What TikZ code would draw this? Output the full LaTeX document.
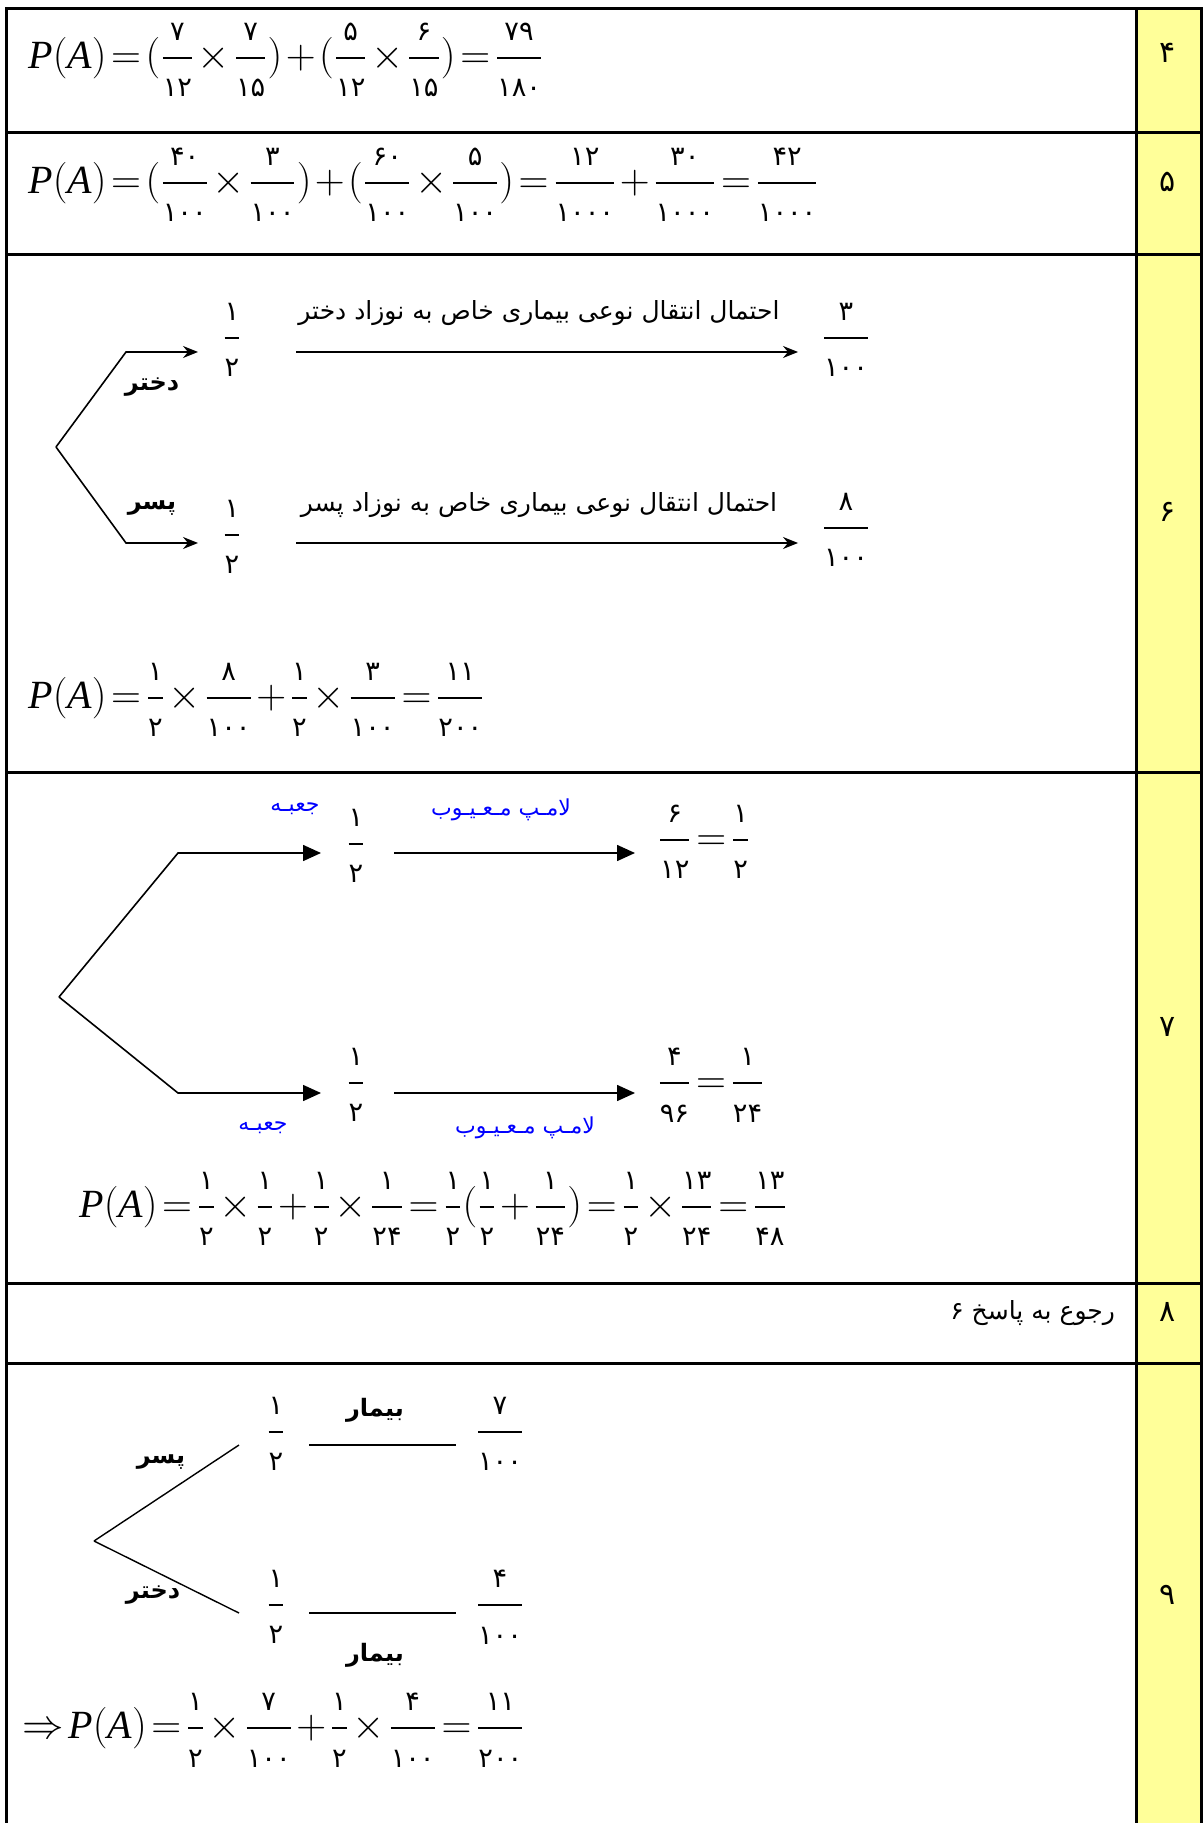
\documentclass[tikz,border=0pt]{standalone}
\usepackage{amsmath}
\usepackage{fontspec}
\setmainfont{Liberation Serif}
\newfontfamily\fadigits[Script=Arabic,Scale=0.68]{DejaVu Sans}
\newfontfamily\fatext[Script=Arabic]{DejaVu Sans}
\TeXXeTstate=1
\usetikzlibrary{arrows.meta}
\definecolor{cellyellow}{RGB}{255,255,153}
\newcommand{\pfrac}[2]{\dfrac{\text{\fadigits #1}}{\text{\fadigits #2}}}
\newcommand{\PofA}{\mathit{P}(\mathit{A})}
\thickmuskip=2mu
\medmuskip=1.5mu
\begin{document}
\begin{tikzpicture}[x=0.5pt,y=-0.5pt,font=\fontsize{20}{24}\selectfont,
           cell_line/.style={line width=1.5pt},
           num_style/.style={font=\fatext\fontsize{15}{17}\selectfont},
           formula_style/.style={anchor=west,inner sep=0pt},
           frac_style/.style={inner sep=0pt},
           branch_style/.style={line width=0.7pt},
           arrow_six/.style={line width=0.8pt,-{Stealth[length=7.5pt,width=6pt,inset=2.5pt]}},
           arrow_seven/.style={line width=0.8pt,-{Triangle[length=9pt,width=8pt]}},
           label_style/.style={font=\fatext\bfseries\fontsize{12}{14}\selectfont},
           text_style/.style={font=\fatext\fontsize{12.5}{15}\selectfont},
           blue_style/.style={text=blue,font=\fatext\fontsize{11}{13}\selectfont}]
            \useasboundingbox (0,0) rectangle (1203,1823);
            \fill[white] (0,0) rectangle (1203,1823);
            \fill[cellyellow] (1136,9) rectangle (1201,1823);
            % table
            \draw[cell_line] (6,1823) -- (6,9) -- (1201,9) -- (1201,1823);
            \draw[cell_line] (1136,9) -- (1136,1823);
            \foreach \y in {133,255,772,1283,1363}
                \draw[cell_line] (6,\y) -- (1201,\y);
            \node[num_style] (n4) at (1168,53)   {۴};
            \node[num_style] (n5) at (1168,182)  {۵};
            \node[num_style] (n6) at (1168,512)  {۶};
            \node[num_style] (n7) at (1168,1027) {۷};
            \node[num_style] (n8) at (1168,1312) {۸};
            \node[num_style] (n9) at (1168,1595) {۹};
            % row 4 and 5
            \node[formula_style] (f4) at (28,60)
                {$\PofA=(\pfrac{۷}{۱۲}\times\pfrac{۷}{۱۵})+(\pfrac{۵}{۱۲}\times\pfrac{۶}{۱۵})=\pfrac{۷۹}{۱۸۰}$};
            \node[formula_style] (f5) at (28,185)
                {$\PofA=(\pfrac{۴۰}{۱۰۰}\times\pfrac{۳}{۱۰۰})+(\pfrac{۶۰}{۱۰۰}\times\pfrac{۵}{۱۰۰})=\pfrac{۱۲}{۱۰۰۰}+\pfrac{۳۰}{۱۰۰۰}=\pfrac{۴۲}{۱۰۰۰}$};
            % row 6
            \coordinate (r6_root) at (56,447);
            \coordinate (r6_up) at (126,352);
            \coordinate (r6_dn) at (126,543);
            \coordinate (r6_up_tip) at (198,352);
            \coordinate (r6_dn_tip) at (198,543);
            \coordinate (r6_a1) at (296,352);
            \coordinate (r6_b1) at (798,352);
            \coordinate (r6_a2) at (296,543);
            \coordinate (r6_b2) at (798,543);
            \node[frac_style] (r6_h1) at (232,340) {$\pfrac{۱}{۲}$};
            \node[frac_style] (r6_h2) at (232,537) {$\pfrac{۱}{۲}$};
            \node[frac_style] (r6_p1) at (846,340) {$\pfrac{۳}{۱۰۰}$};
            \node[frac_style] (r6_p2) at (846,530) {$\pfrac{۸}{۱۰۰}$};
            \node[label_style] (r6_girl) at (152,387) {دختر};
            \node[label_style] (r6_boy) at (152,508) {پسر};
            \node[text_style] (r6_t1) at (539,313) {\beginR احتمال انتقال نوعی بیماری خاص به نوزاد دختر\endR};
            \node[text_style] (r6_t2) at (539,505) {\beginR احتمال انتقال نوعی بیماری خاص به نوزاد پسر\endR};
            \draw[arrow_six] (r6_root) -- (r6_up) -- (r6_up_tip);
            \draw[arrow_six] (r6_root) -- (r6_dn) -- (r6_dn_tip);
            \draw[arrow_six] (r6_a1) -- (r6_b1);
            \draw[arrow_six] (r6_a2) -- (r6_b2);
            \node[formula_style] (f6) at (28,700)
                {$\PofA=\pfrac{۱}{۲}\times\pfrac{۸}{۱۰۰}+\pfrac{۱}{۲}\times\pfrac{۳}{۱۰۰}=\pfrac{۱۱}{۲۰۰}$};
            % row 7
            \coordinate (r7_root) at (59,997);
            \coordinate (r7_up) at (178,853);
            \coordinate (r7_dn) at (178,1093);
            \coordinate (r7_up_tip) at (321,853);
            \coordinate (r7_dn_tip) at (321,1093);
            \coordinate (r7_a1) at (394,853);
            \coordinate (r7_b1) at (635,853);
            \coordinate (r7_a2) at (394,1093);
            \coordinate (r7_b2) at (635,1093);
            \node[frac_style] (r7_h1) at (356,846) {$\pfrac{۱}{۲}$};
            \node[frac_style] (r7_h2) at (356,1085) {$\pfrac{۱}{۲}$};
            \node[frac_style] (r7_p1) at (704,842) {$\pfrac{۶}{۱۲}=\pfrac{۱}{۲}$};
            \node[frac_style] (r7_p2) at (711,1085) {$\pfrac{۴}{۹۶}=\pfrac{۱}{۲۴}$};
            \node[blue_style] (r7_box1) at (295,809) {جعبـه};
            \node[blue_style] (r7_lamp1) at (501,810) {\beginR لامـپ مـعـیـوب\endR};
            \node[blue_style] (r7_box2) at (263,1128) {جعبـه};
            \node[blue_style] (r7_lamp2) at (525,1128) {\beginR لامـپ مـعـیـوب\endR};
            \draw[arrow_seven] (r7_root) -- (r7_up) -- (r7_up_tip);
            \draw[arrow_seven] (r7_root) -- (r7_dn) -- (r7_dn_tip);
            \draw[arrow_seven] (r7_a1) -- (r7_b1);
            \draw[arrow_seven] (r7_a2) -- (r7_b2);
            \node[formula_style] (f7) at (79,1209)
                {$\PofA=\pfrac{۱}{۲}\times\pfrac{۱}{۲}+\pfrac{۱}{۲}\times\pfrac{۱}{۲۴}=\pfrac{۱}{۲}(\pfrac{۱}{۲}+\pfrac{۱}{۲۴})=\pfrac{۱}{۲}\times\pfrac{۱۳}{۲۴}=\pfrac{۱۳}{۴۸}$};
            % row 8
            \node[text_style,anchor=east] (r8_t) at (1122,1313) {\beginR رجوع به پاسخ ۶\endR};
            % row 9
            \coordinate (r9_root) at (94,1541);
            \coordinate (r9_up) at (239,1445);
            \coordinate (r9_dn) at (239,1613);
            \coordinate (r9_a1) at (309,1445);
            \coordinate (r9_b1) at (456,1445);
            \coordinate (r9_a2) at (309,1613);
            \coordinate (r9_b2) at (456,1613);
            \node[frac_style] (r9_h1) at (276,1434) {$\pfrac{۱}{۲}$};
            \node[frac_style] (r9_h2) at (276,1607) {$\pfrac{۱}{۲}$};
            \node[frac_style] (r9_p1) at (500,1434) {$\pfrac{۷}{۱۰۰}$};
            \node[frac_style] (r9_p2) at (500,1607) {$\pfrac{۴}{۱۰۰}$};
            \node[label_style] (r9_boy) at (161,1462) {پسر};
            \node[label_style] (r9_girl) at (153,1595) {دختر};
            \node[label_style] (r9_ill1) at (375,1410) {بیمار};
            \node[label_style] (r9_ill2) at (375,1655) {بیمار};
            \draw[branch_style] (r9_root) -- (r9_up);
            \draw[branch_style] (r9_root) -- (r9_dn);
            \draw[branch_style] (r9_a1) -- (r9_b1);
            \draw[branch_style] (r9_a2) -- (r9_b2);
            \node[formula_style] (f9) at (22,1730)
                {$\Rightarrow\PofA=\pfrac{۱}{۲}\times\pfrac{۷}{۱۰۰}+\pfrac{۱}{۲}\times\pfrac{۴}{۱۰۰}=\pfrac{۱۱}{۲۰۰}$};
        \end{tikzpicture}
\end{document}
